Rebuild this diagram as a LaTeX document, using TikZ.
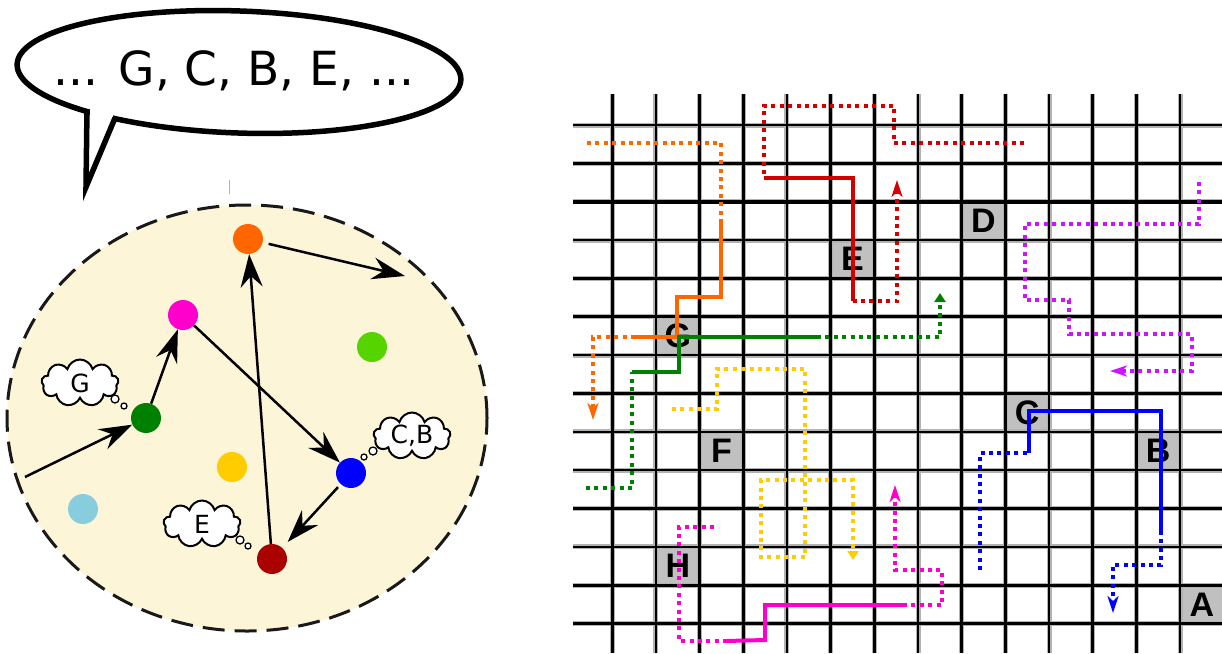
\documentclass[tikz,border=0pt]{standalone}
\usepackage{fontspec}
\newfontfamily\dejavu{DejaVu Sans}
\newfontfamily\libbold{Liberation Sans}
\usetikzlibrary{arrows.meta,shapes.symbols}
\definecolor{cream}{RGB}{253,245,216}
\definecolor{dOrange}{RGB}{255,102,0}
\definecolor{dMagenta}{RGB}{255,0,204}
\definecolor{dLime}{RGB}{85,212,0}
\definecolor{dGreen}{RGB}{0,128,0}
\definecolor{dYellow}{RGB}{255,204,0}
\definecolor{dBlue}{RGB}{0,0,255}
\definecolor{dLightBlue}{RGB}{135,205,222}
\definecolor{dDarkRed}{RGB}{170,0,0}
\definecolor{cRed}{RGB}{212,0,0}
\definecolor{cPurple}{RGB}{205,20,255}
\definecolor{boxgray}{RGB}{192,192,192}
\tikzset{
  dot/.style={circle, minimum size=30pt, inner sep=0pt, draw=none},
  arr/.style={line width=2.5pt, -{Stealth[length=33pt,width=22pt,inset=11pt]}},
  thought/.style={cloud, cloud puffs=9, cloud ignores aspect, draw, fill=white, line width=2pt,
     minimum width=77pt, minimum height=47pt, inner sep=0pt, font=\dejavu\fontsize{25}{27}\selectfont},
  bubble/.style={circle, draw, fill=white, line width=1.3pt, inner sep=0pt},
  gridhalo/.style={draw=black!30, line width=5pt},
  gridline/.style={draw=black, line width=2.6pt},
  solidp/.style={line width=4pt, line join=miter},
  dotp/.style={line width=4.2pt, dash pattern=on 4pt off 4.4pt},
  tipS/.style={-{Stealth[length=17pt,width=11pt,inset=5pt]}},
  tipT/.style={-{Triangle[length=9pt,width=11pt]}},
  letter/.style={font=\libbold\bfseries\fontsize{34}{36}\selectfont, inner sep=0pt}
}
\begin{document}
\begin{tikzpicture}[x=1pt,y=-1pt]
\useasboundingbox (0,0) rectangle (1222,653);
\fill[white] (0,0) rectangle (1222,653);

% ---------------- left: population circle ----------------
\filldraw[fill=cream, draw=black!90, line width=3pt, dash pattern=on 22pt off 10pt]
  (247,418) ellipse [x radius=240pt, y radius=213pt];

\node[dot, fill=dOrange]    (orange)  at (248,239) {};
\node[dot, fill=dMagenta]   (magenta) at (183,315) {};
\node[dot, fill=dLime]      (lime)    at (372,347) {};
\node[dot, fill=dGreen]     (green)   at (146,418) {};
\node[dot, fill=dYellow]    (yellow)  at (232,467) {};
\node[dot, fill=dBlue]      (blue)    at (351,473) {};
\node[dot, fill=dLightBlue] (lblue)   at (83,509) {};
\node[dot, fill=dDarkRed]   (dred)    at (272,559) {};

\coordinate (inlet) at (25,477);
\coordinate (outlet) at (405,276);
\draw[arr] (inlet) -- (green);
\draw[arr] (green) -- (magenta);
\draw[arr] (magenta) -- (blue);
\draw[arr, shorten <=4pt, shorten >=8pt] (blue) -- (dred);
\draw[arr] (dred) -- (orange);
\draw[arr, shorten <=6pt] (orange) -- (outlet);

% thought clouds
\node[thought] (cloudG) at (80,383) {G};
\node[bubble, minimum size=8pt] (bg1) at (115,399) {};
\node[bubble, minimum size=6pt] (bg2) at (124,406) {};
\node[thought] (cloudCB) at (412,436) {C,B};
\node[bubble, minimum size=8pt] (bc1) at (373,451) {};
\node[bubble, minimum size=6pt] (bc2) at (364,457) {};
\node[thought] (cloudE) at (202,524) {E};
\node[bubble, minimum size=8pt] (be1) at (240,540) {};
\node[bubble, minimum size=6pt] (be2) at (248,546) {};

% ---------------- speech bubble ----------------
\fill[white, rotate around={-2:(239,72)}] (239,72) ellipse [x radius=222pt, y radius=61pt];
\draw[line width=5.5pt, rotate around={-2:(239,72)}] (239,72) ellipse [x radius=222pt, y radius=61pt];
\fill[white] (90,100) rectangle (113,128);
\draw[line width=5.5pt, line join=miter] (87,109) -- (86,187) -- (115,118);
\node[font=\dejavu\fontsize{47}{50}\selectfont, anchor=base, inner sep=0pt] (speech) at (234,85) {... G, C, B, E, ...};
\draw[black!30, line width=1pt] (229,180) -- (229,194);

% ---------------- right: grid ----------------
\foreach \k/\j/\t in {5/3/E, 1/5/G, 8/2/D, 2/8/F, 1/11/H, 9/7/C, 12/8/B, 13/12/A} {
  \fill[boxgray] ({612.3+43.67*\k},{125+38.35*\j}) rectangle ({612.3+43.67*(\k+1)},{125+38.35*(\j+1)});
}
\foreach \k in {0,...,13} {
  \draw[gridhalo] ({612.3+43.67*\k},94) -- ({612.3+43.67*\k},653);
}
\foreach \j in {0,...,13} {
  \draw[gridhalo] (573,{125+38.35*\j}) -- (1222,{125+38.35*\j});
}
\foreach \k in {0,...,13} {
  \draw[gridline] ({612.3+43.67*\k},94) -- ({612.3+43.67*\k},653);
}
\foreach \j in {0,...,13} {
  \draw[gridline] (573,{125+38.35*\j}) -- (1222,{125+38.35*\j});
}
\draw[gridline, line width=4pt] (573,201.7) -- (1222,201.7);

\foreach \k/\j/\t in {5/3/E, 1/5/G, 8/2/D, 2/8/F, 1/11/H, 9/7/C, 12/8/B, 13/12/A} {
  \node[letter] (lab\t) at ({612.3+43.67*(\k+0.5)},{125+38.35*(\j+0.5)}) {\t};
}

% orange
\draw[dotp, dOrange] (587,143) -- (721,143) -- (721,222);
\draw[solidp, dOrange] (721,222) -- (721,297) -- (677,297) -- (677,337) -- (635,337);
\draw[dotp, dOrange, tipS] (635,337) -- (593,337) -- (593,420);
% red
\draw[dotp, cRed] (1024,143) -- (894,143) -- (894,106) -- (764,106) -- (764,178);
\draw[solidp, cRed] (764,178) -- (852.5,178) -- (852.5,301);
\draw[dotp, cRed, tipS] (852.5,301) -- (897,301) -- (897,180);
% green
\draw[dotp, dGreen] (586,488) -- (632,488) -- (632,372);
\draw[solidp, dGreen] (632,372) -- (679,372) -- (679,337) -- (817,337);
\draw[dotp, dGreen, tipT] (817,337) -- (940,337) -- (940,293);
% purple
\draw[dotp, cPurple, tipS] (1199,182) -- (1199,224) -- (1025,224) -- (1025,300) -- (1069,300)
  -- (1069,334) -- (1192,334) -- (1192,371) -- (1110,371);
% pink
\draw[dotp, dMagenta] (714,527) -- (679,527) -- (679,641) -- (726,641);
\draw[solidp, dMagenta] (726,641) -- (765,640) -- (765,605) -- (903,605);
\draw[dotp, dMagenta, tipS] (903,605) -- (942,605) -- (942,570) -- (895,570) -- (895,485);
% yellow
\draw[dotp, dYellow, tipT] (672,409) -- (717,409) -- (717,369) -- (805,369) -- (805,557)
  -- (761,557) -- (761,480) -- (853,480) -- (853,560);
% blue
\draw[dotp, dBlue] (980,570) -- (980,453) -- (1029,453);
\draw[solidp, dBlue] (1029,453) -- (1029,411) -- (1161,411) -- (1161,531);
\draw[dotp, dBlue, tipS] (1161,531) -- (1161,565) -- (1113,565) -- (1113,613);
\end{tikzpicture}
\end{document}
